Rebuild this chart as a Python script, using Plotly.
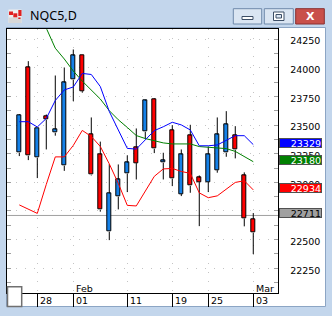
import plotly.graph_objects as go

W, H = 332, 316

# ---------------- data ----------------
title_text = "NQC5,D"
opens = [23258, 24002, 23215, 23577, 23433, 23145, 23895, 24104, 23420, 23243,
         22569, 22875, 23075, 23302, 23441, 23726, 23171, 23455, 22899, 23407,
         23040, 23002, 23106, 23258, 23407, 23060, 22679]
highs = [23595, 24057, 23470, 23592, 23932, 24002, 24159, 24104, 23566, 23355,
         23159, 23156, 23235, 23470, 23720, 23732, 23258, 23499, 23287, 23502,
         23060, 23311, 23566, 23621, 23490, 23087, 22732]
lows = [23229, 23194, 23037, 23287, 23407, 23100, 23708, 23782, 23060, 22744,
        22496, 22764, 22915, 23025, 23379, 23255, 23025, 22967, 22880, 22909,
        22618, 22915, 23084, 23223, 23209, 22616, 22374]
closes = [23586, 23232, 23470, 23546, 23461, 23869, 24104, 23795, 23066, 22761,
          22903, 23023, 23171, 23168, 23712, 23293, 23189, 23032, 23243, 22970,
          23002, 23243, 23415, 23505, 23284, 22685, 22561]
ma_fast = [23529, 23529, 23483, 23557, 23714, 23806, 23832, 23950, 23941, 23836,
           23618, 23456, 23296, 23290, 23371, 23451, 23485, 23524, 23501, 23457,
           23319, 23319, 23326, 23366, 23407, 23407, 23329]
ma_slow = [None, None, None, 24345, 24170, 24076, 23971, 23883, 23804, 23727,
           23625, 23546, 23479, 23408, 23382, 23362, 23344, 23335, 23338, 23335,
           23312, 23306, 23302, 23294, 23270, 23226, 23180]
ma_low = [22803, 22768, 22729, 22982, 23222, 23222, 23322, 23453, 23400, 23313,
          23161, 22991, 22799, 22794, 22921, 23052, 23117, 23121, 23095, 23078,
          22908, 22866, 22882, 22944, 22999, 23014, 22934]
date_tick_idx = [2, 6, 12, 17, 21, 26]
date_tick_text = ["28", "01", "11", "19", "25", "03"]
month_idx = [6, 26]
month_text = ["Feb", "Mar"]
price_ticks = [22250, 22500, 22750, 23000, 23250, 23500, 23750, 24000, 24250]
price_text = [str(v) for v in price_ticks]
bid_price = 22711
last_labels = [ma_fast[-1], ma_slow[-1], ma_low[-1], bid_price]

# ---------------- styles ----------------
BULL = "#1581e8"
BEAR = "#ff0000"
FRAME = "#c3d6ec"
FONT = "DejaVu Sans"


def px(x):
    return x / W


def py(y):
    return 1 - y / H


n = len(opens)
idx = list(range(n))

fig = go.Figure()

# wicks (above / below body)
wx, wy = [], []
for i, o, h, l, c in zip(idx, opens, highs, lows, closes):
    top, bot = max(o, c), min(o, c)
    if h > top:
        wx += [i, i, None]
        wy += [h, top, None]
    if l < bot:
        wx += [i, i, None]
        wy += [bot, l, None]
fig.add_trace(go.Scatter(x=wx, y=wy, mode="lines",
                         line=dict(color="black", width=1),
                         hoverinfo="skip", showlegend=False))

# bodies
fig.add_trace(go.Bar(
    x=idx,
    base=[min(o, c) for o, c in zip(opens, closes)],
    y=[max(abs(c - o), 4) for o, c in zip(opens, closes)],
    width=0.5,
    marker=dict(color=[BULL if c >= o else BEAR for o, c in zip(opens, closes)],
                line=dict(color="black", width=1)),
    showlegend=False, hoverinfo="skip"))

# moving averages
for ys, col in ((ma_low, "#ff0000"), (ma_slow, "#008000"), (ma_fast, "#0000ff")):
    fig.add_trace(go.Scatter(x=idx, y=ys, mode="lines",
                             line=dict(color=col, width=1),
                             showlegend=False, hoverinfo="skip"))

shapes = []
# window client area
shapes.append(dict(type="rect", xref="paper", yref="paper",
                   x0=px(6.5), x1=px(325.5), y0=py(306.5), y1=py(27.5),
                   fillcolor="white", line=dict(color="#8ca5c4", width=1),
                   layer="below"))
# bid line
shapes.append(dict(type="line", xref="paper", yref="y",
                   x0=px(7.3), x1=px(278.3), y0=bid_price, y1=bid_price,
                   line=dict(color="#a0a0a0", width=1), layer="below"))
# little box bottom-left
shapes.append(dict(type="rect", xref="paper", yref="paper",
                   x0=px(7.5), x1=px(21.7), y0=py(306.5), y1=py(286.7),
                   fillcolor="white", line=dict(color="#707070", width=1.5)))
# title bar buttons
for x0, x1, fill, border in ((233.3, 261.7, "#dae5f2", "#6f89aa"),
                             (264.3, 293.3, "#dae5f2", "#6f89aa"),
                             (295.7, 324.3, "#c9504a", "#8a2f2f")):
    shapes.append(dict(type="rect", xref="paper", yref="paper",
                       x0=px(x0), x1=px(x1), y0=py(24), y1=py(8.7),
                       fillcolor=fill, line=dict(color=border, width=1)))
# minimize glyph
shapes.append(dict(type="rect", xref="paper", yref="paper",
                   x0=px(242), x1=px(253), y0=py(19.5), y1=py(16.5),
                   fillcolor="white", line=dict(color="#3c4e66", width=1)))
# restore glyph
shapes.append(dict(type="rect", xref="paper", yref="paper",
                   x0=px(273.5), x1=px(284), y0=py(20.5), y1=py(12),
                   fillcolor="white", line=dict(color="#3c4e66", width=1)))
shapes.append(dict(type="rect", xref="paper", yref="paper",
                   x0=px(276), x1=px(281.5), y0=py(18), y1=py(14.5),
                   fillcolor="#dae5f2", line=dict(color="#3c4e66", width=1)))
# icon
shapes.append(dict(type="rect", xref="paper", yref="paper",
                   x0=px(8.5), x1=px(21.5), y0=py(23), y1=py(9.5),
                   fillcolor="#eeeeee", line=dict(width=0)))
shapes.append(dict(type="rect", xref="paper", yref="paper",
                   x0=px(8.5), x1=px(21.5), y0=py(23), y1=py(17.5),
                   fillcolor="#d8d8d8", line=dict(width=0)))
for a, b, c_, d in ((9, 13, 11.5, 15), (13.3, 17.3, 13.3, 17.3),
                    (18.3, 21.5, 10, 16), (18.3, 20.5, 17.5, 19)):
    shapes.append(dict(type="rect", xref="paper", yref="paper",
                       x0=px(a), x1=px(b), y0=py(d), y1=py(c_),
                       fillcolor="#e02020", line=dict(width=0)))

annotations = []
annotations.append(dict(text=title_text, xref="paper", yref="paper",
                        x=px(28), y=py(15.5), xanchor="left", yanchor="middle",
                        showarrow=False,
                        font=dict(family="Noto Sans", size=12.5, color="black")))
annotations.append(dict(text="<b>X</b>", xref="paper", yref="paper",
                        x=px(310), y=py(16.3), xanchor="center", yanchor="middle",
                        showarrow=False,
                        font=dict(family="DejaVu Sans", size=11, color="white")))
for t, s in zip(date_tick_idx, date_tick_text):
    annotations.append(dict(text=s, xref="x", yref="paper", x=t, y=py(300),
                            xanchor="left", yanchor="middle", xshift=1,
                            showarrow=False,
                            font=dict(family=FONT, size=9.5, color="black")))
for t, s in zip(month_idx, month_text):
    annotations.append(dict(text=s, xref="x", yref="paper", x=t, y=py(288.7),
                            xanchor="left", yanchor="middle", xshift=1,
                            showarrow=False,
                            font=dict(family=FONT, size=9.5, color="black")))
for val, bg, fg in zip(last_labels, ["#0000ff", "#008000", "#ff0000", "#a0a0a0"],
                       ["white", "white", "white", "black"]):
    annotations.append(dict(text=str(val), xref="paper", yref="y",
                            x=px(279.3), y=val, xanchor="left", yanchor="middle",
                            yshift=2, showarrow=False, bgcolor=bg,
                            bordercolor="#505050", borderwidth=1, borderpad=0,
                            width=41, height=8, align="right",
                            font=dict(family=FONT, size=9.5, color=fg)))

fig.update_layout(
    width=W, height=H,
    margin=dict(l=0, r=0, t=0, b=0),
    paper_bgcolor=FRAME, plot_bgcolor="white",
    bargap=0, showlegend=False,
    shapes=shapes, annotations=annotations,
    xaxis=dict(domain=[px(7.3), px(278.3)], range=[-1.333, 28.78],
               showline=True, linecolor="black", linewidth=1, mirror=True,
               ticks="outside", ticklen=13, tickcolor="black", tickwidth=1,
               tickmode="array", tickvals=date_tick_idx, showticklabels=False,
               showgrid=True, gridcolor="#c4c4c4", griddash="1px,8px",
               zeroline=False, fixedrange=True),
    yaxis=dict(domain=[py(293.3), py(29.3)], range=[22032, 24335],
               side="right", tickmode="array", tickvals=price_ticks,
               ticktext=price_text, ticks="inside", ticklen=4,
               tickcolor="#a0a0a0", showline=True, linecolor="black",
               linewidth=1, mirror="ticks",
               minor=dict(tick0=22250, dtick=125, ticks="inside", ticklen=4,
                          tickcolor="#a0a0a0", showgrid=False),
               showgrid=True, gridcolor="#c4c4c4", griddash="1px,8px",
               zeroline=False, ticklabelstandoff=9, ticklabelshift=2,
               tickfont=dict(family=FONT, size=9.5, color="black"),
               fixedrange=True),
)

fig.write_html("out.html", config={"displayModeBar": False})
